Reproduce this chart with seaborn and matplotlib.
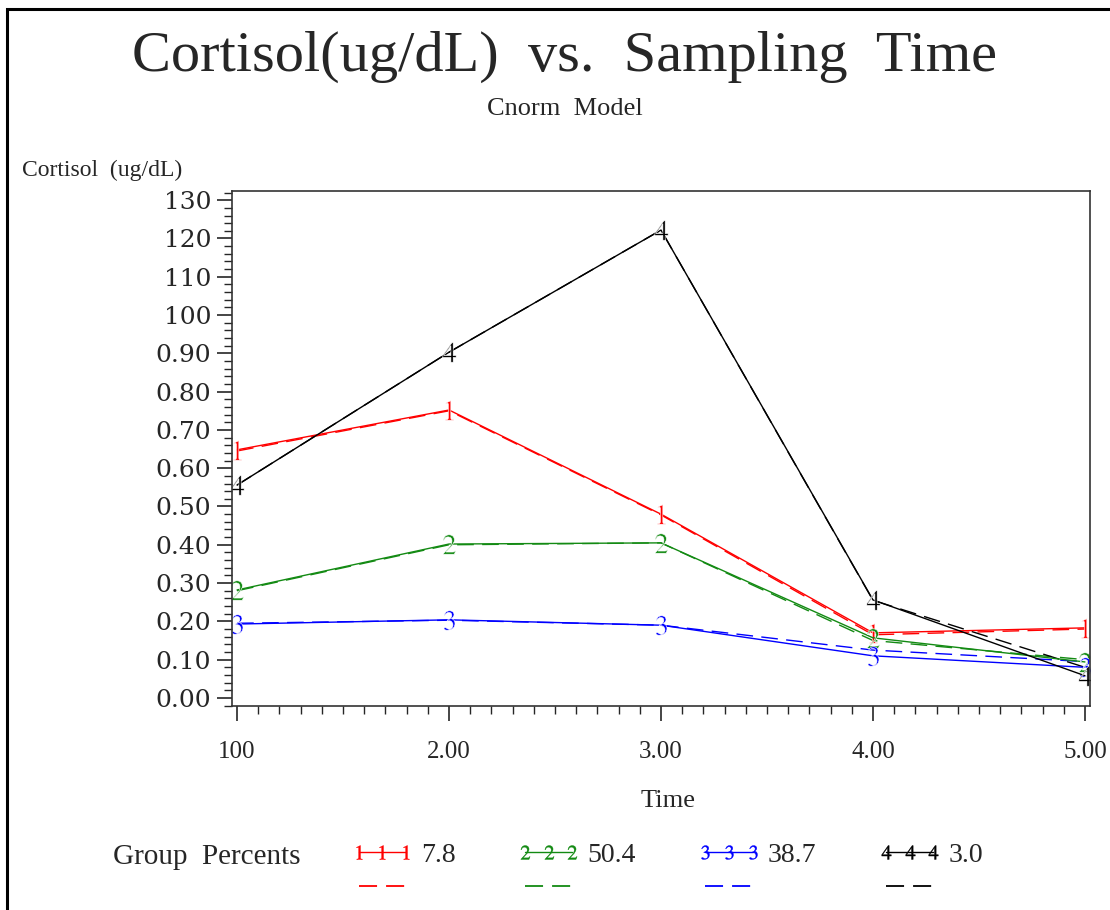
import pandas as pd
import matplotlib
matplotlib.use('Agg')
from matplotlib import pyplot as plt
from matplotlib.lines import Line2D
from matplotlib.patches import Rectangle
from matplotlib.ticker import FixedLocator, FixedFormatter, MultipleLocator
import seaborn as sns

# Sampling times and group info
times = [1, 2, 3, 4, 5]
groups = ['1', '2', '3', '4']
group_pcts = ['7.8', '50.4', '38.7', '3.0']
colors = ['#ff0000', '#138a13', '#0000ff', '#000000']

# Observed cortisol means (solid lines)
obs_1 = [0.648, 0.752, 0.480, 0.170, 0.183]
obs_2 = [0.282, 0.402, 0.405, 0.157, 0.094]
obs_3 = [0.193, 0.204, 0.190, 0.110, 0.080]
obs_4 = [0.556, 0.903, 1.222, 0.256, 0.058]

# Model predicted trajectories (dashed lines)
pred_1 = [0.645, 0.750, 0.478, 0.165, 0.180]
pred_2 = [0.280, 0.400, 0.405, 0.150, 0.100]
pred_3 = [0.195, 0.203, 0.190, 0.125, 0.095]
pred_4 = [0.556, 0.903, 1.222, 0.255, 0.080]

ytick_vals = [0.0, 0.1, 0.2, 0.3, 0.4, 0.5, 0.6, 0.7, 0.8, 0.9, 1.0, 1.1, 1.2, 1.3]
ytick_labels = ['0.00', '0.10', '0.20', '0.30', '0.40', '0.50', '0.60', '0.70',
                '0.80', '0.90', '100', '110', '120', '130']
xtick_labels = ['100', '2.00', '3.00', '4.00', '5.00']


def to_long(series):
    rows = []
    for g, vals in zip(groups, series):
        for t, v in zip(times, vals):
            rows.append({'Time': t, 'Cortisol': v, 'Group': g})
    return pd.DataFrame(rows)


obs = to_long([obs_1, obs_2, obs_3, obs_4])
pred = to_long([pred_1, pred_2, pred_3, pred_4])
palette = dict(zip(groups, colors))
markers = ['$' + g + '$' for g in groups]

sns.set_style('ticks')
plt.rcParams['font.family'] = ['Liberation Serif', 'DejaVu Serif']
plt.rcParams['mathtext.fontset'] = 'stix'

fig = plt.figure(figsize=(11.1, 9.1), dpi=100)
ax = fig.add_axes([0.209, 0.2242, 0.773, 0.5659])

sns.lineplot(data=pred, x='Time', y='Cortisol', hue='Group', palette=palette,
             linewidth=1.0, linestyle=(0, (12, 6)), legend=False, ax=ax)
sns.lineplot(data=obs, x='Time', y='Cortisol', hue='Group', style='Group',
             palette=palette, markers=markers, dashes=False, markersize=14,
             markeredgewidth=0.4, linewidth=1.0, legend=False, ax=ax)

ax.set_xlim(0.976, 5.024)
ax.set_ylim(-0.021, 1.324)
ax.xaxis.set_major_locator(FixedLocator(times))
ax.xaxis.set_major_formatter(FixedFormatter(xtick_labels))
ax.xaxis.set_minor_locator(MultipleLocator(0.1))
ax.yaxis.set_major_locator(FixedLocator(ytick_vals))
ax.yaxis.set_major_formatter(FixedFormatter(ytick_labels))
ax.yaxis.set_minor_locator(MultipleLocator(0.02))
ax.tick_params(which='major', length=11, width=1.2, pad=4)
ax.tick_params(which='minor', length=6, width=1.0)
ax.tick_params(axis='x', pad=14, labelsize=18)
ax.tick_params(axis='y', labelsize=18)
for lab in ax.get_yticklabels():
    lab.set_family('DejaVu Serif')
for s in ax.spines.values():
    s.set_linewidth(1.2)
    s.set_color('#333333')
ax.set_xlabel('')
ax.set_ylabel('')

fig.text(0.509, 0.938, 'Cortisol(ug/dL)  vs.  Sampling  Time', ha='center', va='center',
         fontsize=42)
fig.text(0.509, 0.880, 'Cnorm  Model', ha='center', va='center', fontsize=19)
fig.text(0.020, 0.813, 'Cortisol  (ug/dL)', ha='left', va='center', fontsize=17)
fig.text(0.602, 0.120, 'Time', ha='center', va='center', fontsize=19)
fig.text(0.102, 0.058, 'Group  Percents', ha='left', va='center', fontsize=21)

# legend: solid line with markers on top row, dashed line under it
handles, labels = [], []
for g, c, m, p in zip(groups, colors, markers, group_pcts):
    handles.append(Line2D([], [], color=c, linewidth=1.0, marker=m, markersize=10,
                          markeredgewidth=0.3))
    labels.append(p)
    handles.append(Line2D([], [], color=c, linewidth=1.3, linestyle=(0, (10, 5))))
    labels.append(' ')
fig.legend(handles, labels, ncol=4, loc='center left', bbox_to_anchor=(0.293, 0.042),
           frameon=False, fontsize=20, numpoints=3, handlelength=2.3,
           handletextpad=0.25, columnspacing=2.2, labelspacing=0.3)

fig.patches.append(Rectangle((7 / 1110, -0.1), 2, 1 - 9 / 910 + 0.1, transform=fig.transFigure,
                             fill=False, edgecolor='black', linewidth=2.2))

fig.savefig('out.png', dpi=100)
